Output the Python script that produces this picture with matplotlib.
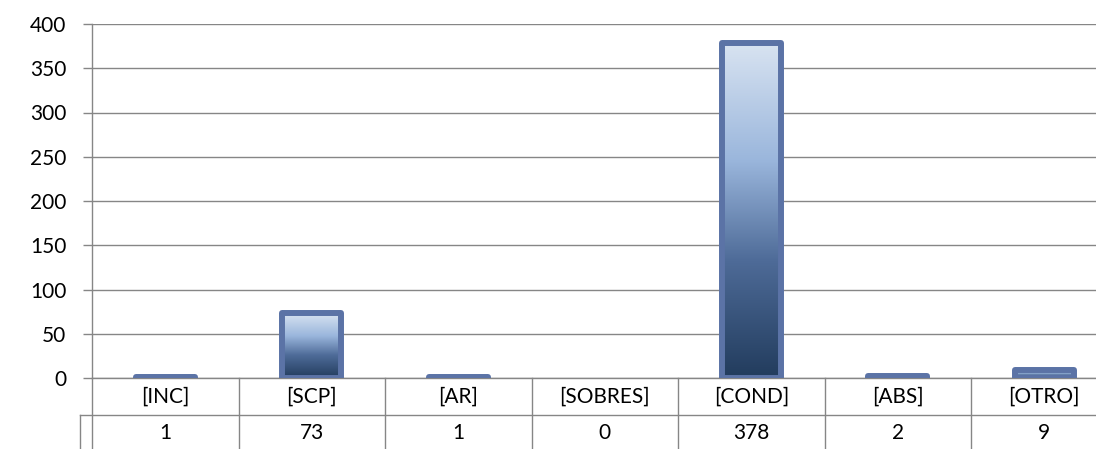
import matplotlib
matplotlib.use("Agg")
import matplotlib.pyplot as plt
import numpy as np
from matplotlib.colors import LinearSegmentedColormap
from matplotlib.transforms import blended_transform_factory

categories = ["[INC]", "[SCP]", "[AR]", "[SOBRES]", "[COND]", "[ABS]", "[OTRO]"]
values = [1, 73, 1, 0, 378, 2, 9]
yticks = [0, 50, 100, 150, 200, 250, 300, 350, 400]

plt.rcParams['font.family'] = ['Lato', 'DejaVu Sans']

fig = plt.figure(figsize=(10.96, 4.49), dpi=100)
W, H = 1096, 449
left_px, right_px, top_px, bot_px = 92, 1117.5, 24, 378
ax = fig.add_axes([left_px / W, 1 - bot_px / H, (right_px - left_px) / W, (bot_px - top_px) / H])
ax.set_xlim(-0.5, len(categories) - 0.5)
ax.set_ylim(0, 400)

grid_c = "#868686"
edge_c = "#5B73A6"
cmap = LinearSegmentedColormap.from_list(
    "grad", [(0, "#223C5D"), (0.35, "#4E6B98"), (0.65, "#9AB6DC"), (1, "#D8E3F1")])

x = np.arange(len(categories))
bars = ax.bar(x, values, width=0.4, facecolor="none", edgecolor=edge_c,
              linewidth=4.3, joinstyle="round", zorder=4)
grad = np.linspace(0, 1, 256).reshape(-1, 1)
for b, v in zip(bars, values):
    if v == 0:
        b.set_linewidth(0)
        continue
    bx, by = b.get_x(), b.get_y()
    im = ax.imshow(grad, cmap=cmap, origin="lower", aspect="auto",
                   extent=[bx, bx + b.get_width(), by, by + b.get_height()],
                   zorder=3, interpolation="bilinear")
    im.set_clip_path(b)
ax.set_xlim(-0.5, len(categories) - 0.5)
ax.set_ylim(0, 400)

ax.set_yticks(yticks)
ax.set_yticklabels([str(t) for t in yticks], fontsize=15, color="#000000")
ax.yaxis.grid(True, color=grid_c, linewidth=1.0)
ax.set_axisbelow(True)
ax.tick_params(axis="y", length=6.5, width=1.0, color=grid_c, pad=12)
ax.tick_params(axis="x", bottom=False, labelbottom=False)
for s in ["top", "right", "bottom"]:
    ax.spines[s].set_visible(False)
ax.spines["left"].set_color(grid_c)
ax.spines["left"].set_linewidth(1.0)
ax.spines["left"].set_bounds(0, 400)

# data table
tr = blended_transform_factory(ax.transData, ax.transAxes)
row1 = -37 / 354
row_bottom = -0.3
ax.plot([-0.5, -0.5], [0, row_bottom], transform=tr, color=grid_c, lw=1.0, clip_on=False)
ax.plot([-0.5, len(categories) - 0.5], [0, 0], transform=tr, color=grid_c, lw=1.0, clip_on=False)
for i in range(len(categories) - 1):
    ax.plot([i + 0.5, i + 0.5], [0, row_bottom], transform=tr, color=grid_c, lw=1.0, clip_on=False)
left_tab = -0.5 - 12 / 146.5
ax.plot([left_tab, len(categories) - 0.5], [row1, row1], transform=tr, color=grid_c, lw=1.0, clip_on=False)
ax.plot([left_tab, left_tab], [row1, row_bottom], transform=tr, color=grid_c, lw=1.0, clip_on=False)
for i, (c, v) in enumerate(zip(categories, values)):
    ax.text(i, -19 / 354, c, transform=tr, ha="center", va="center", fontsize=15)
    ax.text(i, -55 / 354, str(v), transform=tr, ha="center", va="center", fontsize=15)

fig.savefig("out.png", dpi=100)
